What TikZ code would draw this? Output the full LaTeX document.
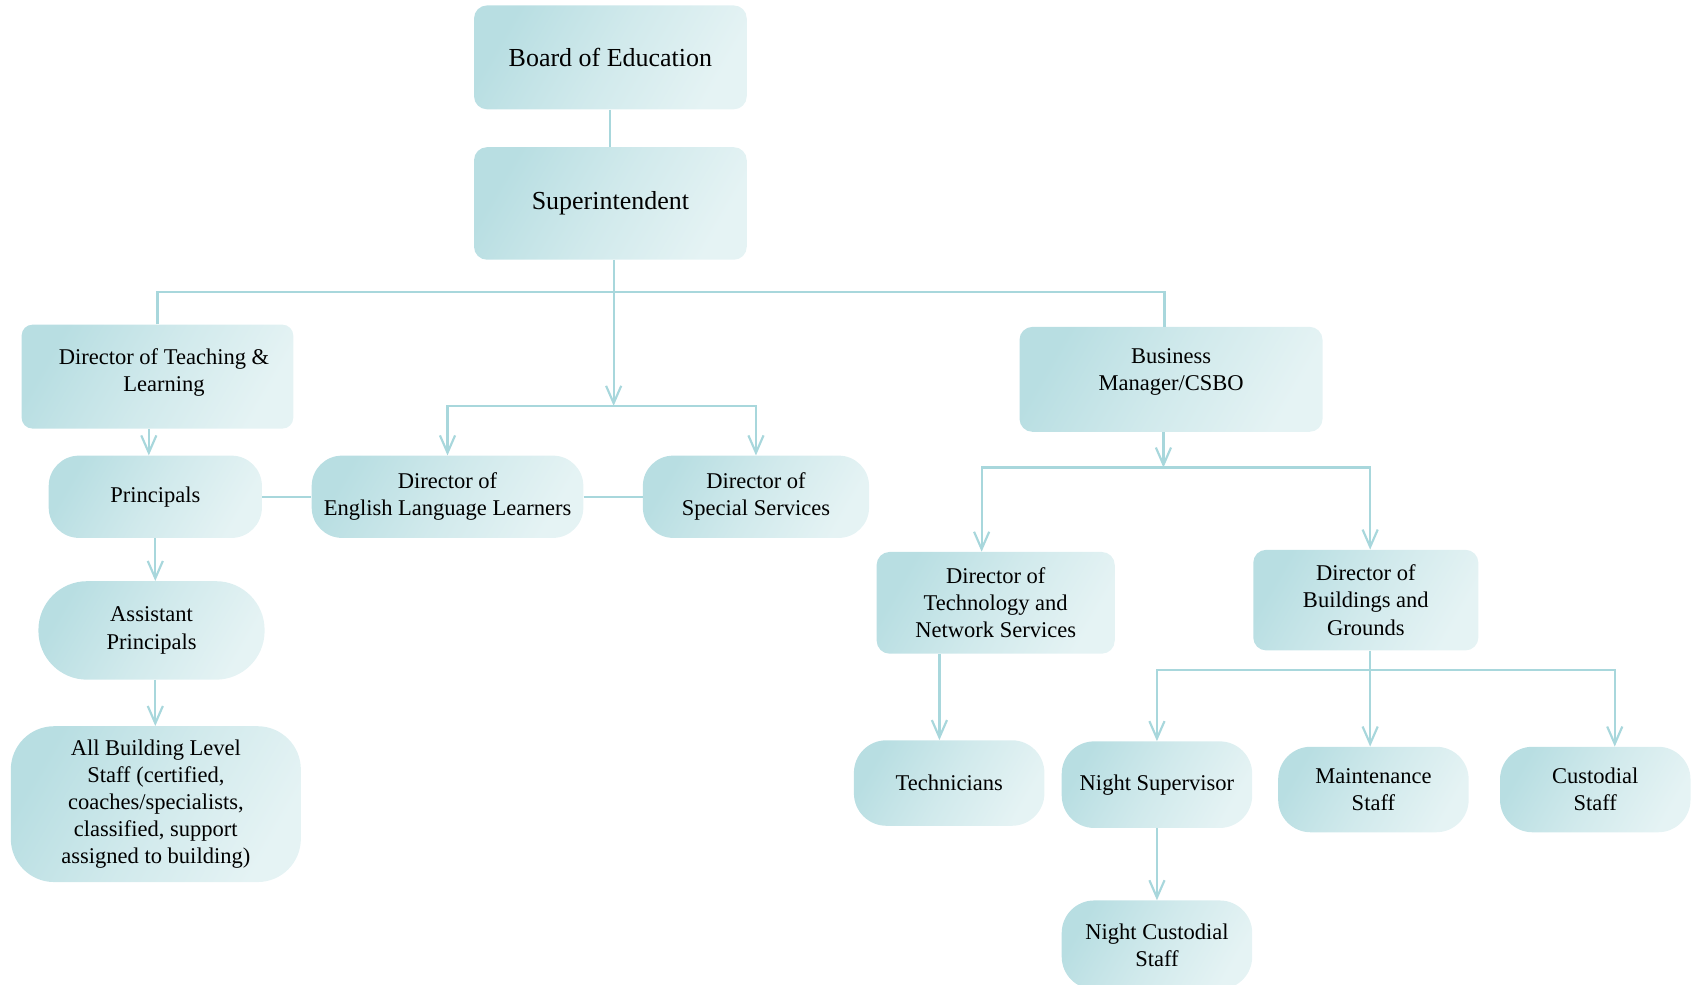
\documentclass[tikz,border=0pt]{standalone}
\usepackage{fontspec}
\setmainfont{Liberation Serif}
\usetikzlibrary{arrows.meta}

\definecolor{boxdark}{RGB}{184,222,226}
\definecolor{boxlight}{RGB}{229,243,244}
\definecolor{linkcol}{RGB}{168,215,220}

\tikzset{
	box/.style={rounded corners=12pt, left color=boxdark, right color=boxlight, middle color=boxdark!45!boxlight,
		shading angle=60, align=center, inner sep=0pt, font=\fontsize{20.8}{25}\selectfont},
	pill/.style={box, rounded corners=28pt},
	boxtext/.style={align=center, inner sep=0pt, font=\fontsize{20.8}{25}\selectfont},
	link/.style={linkcol, line width=2pt},
	arr/.style={link, -{Straight Barb[length=16pt,width=14pt]}}
}

\begin{document}
\begin{tikzpicture}[x=1pt,y=-1pt]
					\useasboundingbox (0,0) rectangle (1568,910);
					
					\node[box, minimum width=252pt, minimum height=96pt, font=\fontsize{24}{28}\selectfont] (board) at (564,53) {Board of Education};
					\node[box, minimum width=252pt, minimum height=104pt, font=\fontsize{24}{28}\selectfont] (supt) at (564,188) {Superintendent};
					
					\node[box, rounded corners=10pt, minimum width=251pt, minimum height=96pt,
						label={[boxtext, xshift=6pt, yshift=4pt]center:Director of Teaching \&\\Learning}] (dtl) at (145.5,348) {};
					\node[box, minimum width=280pt, minimum height=97pt,
						label={[boxtext, yshift=7pt]center:Business\\Manager/CSBO}] (biz) at (1082,350.5) {};
					
					\node[pill, minimum width=197pt, minimum height=76pt] (prin) at (143.5,459) {Principals};
					\node[pill, rounded corners=45pt, minimum width=209pt, minimum height=91pt] (asst) at (140,582.5) {Assistant\\Principals};
					\node[pill, rounded corners=40pt, minimum width=268pt, minimum height=144pt] (allstaff) at (144,743) {All Building Level\\Staff (certified,\\coaches/specialists,\\classified, support\\assigned to building)};
					
					\node[pill, minimum width=251pt, minimum height=76pt] (ell) at (413.5,459) {Director of\\English Language Learners};
					\node[pill, minimum width=209pt, minimum height=76pt] (spec) at (698.5,459) {Director of\\Special Services};
					
					\node[box, minimum width=220pt, minimum height=94pt] (techdir) at (920,557) {Director of\\Technology and\\Network Services};
					\node[box, minimum width=208pt, minimum height=93pt] (bgdir) at (1262,554.5) {Director of\\Buildings and\\Grounds};
					
					\node[pill, rounded corners=30pt, minimum width=176pt, minimum height=79pt] (techn) at (877,723.5) {Technicians};
					\node[pill, rounded corners=30pt, minimum width=176pt, minimum height=80pt] (nightsup) at (1069,725) {Night Supervisor};
					\node[pill, rounded corners=30pt, minimum width=176pt, minimum height=79pt] (maint) at (1269,729.5) {Maintenance\\Staff};
					\node[pill, rounded corners=30pt, minimum width=176pt, minimum height=79pt] (cust) at (1474,729.5) {Custodial\\Staff};
					\node[pill, rounded corners=30pt, minimum width=176pt, minimum height=82pt] (nightcust) at (1069,873) {Night Custodial\\Staff};
					
					% top of the chart
					\draw[link] (board) -- (supt);
					\coordinate (suptbus) at (567,375);
					\draw[link] (dtl.north) |- (suptbus |- 0,270) -| ([xshift=-6pt]biz.north);
					\draw[arr] (supt.south -| suptbus) -- (suptbus);
					\draw[arr] (suptbus) -| (ell.north);
					\draw[arr] (suptbus) -| (spec.north);
					\draw[link] (prin) -- (ell) -- (spec);
					
					% teaching and learning
					\draw[arr] ([xshift=-6pt]dtl.south -| prin) -- ([xshift=-6pt]prin.north);
					\draw[arr] (prin.south) -- (prin.south |- asst.north);
					\draw[arr] (asst.south -| prin) -- (prin.south |- allstaff.north);
					
					% business side
					\coordinate (bizbus) at (1075,432);
					\draw[arr] (biz.south -| bizbus) -- (bizbus);
					\draw[arr] (bizbus) -| ([xshift=-13pt]techdir.north);
					\draw[arr] (bizbus) -| ([xshift=4pt]bgdir.north);
					\draw[arr] ([xshift=-9pt]techdir.south -| techn) -- ([xshift=-9pt]techn.north);
					
					\coordinate (bgbus) at (1266,619);
					\draw[arr] (bgdir.south -| bgbus) -- (bgbus |- maint.north);
					\draw[arr] (bgbus) -| (nightsup.north);
					\draw[arr] (bgbus) -| ([xshift=18pt]cust.north);
					\draw[arr] (nightsup) -- (nightcust);
\end{tikzpicture}
\end{document}
